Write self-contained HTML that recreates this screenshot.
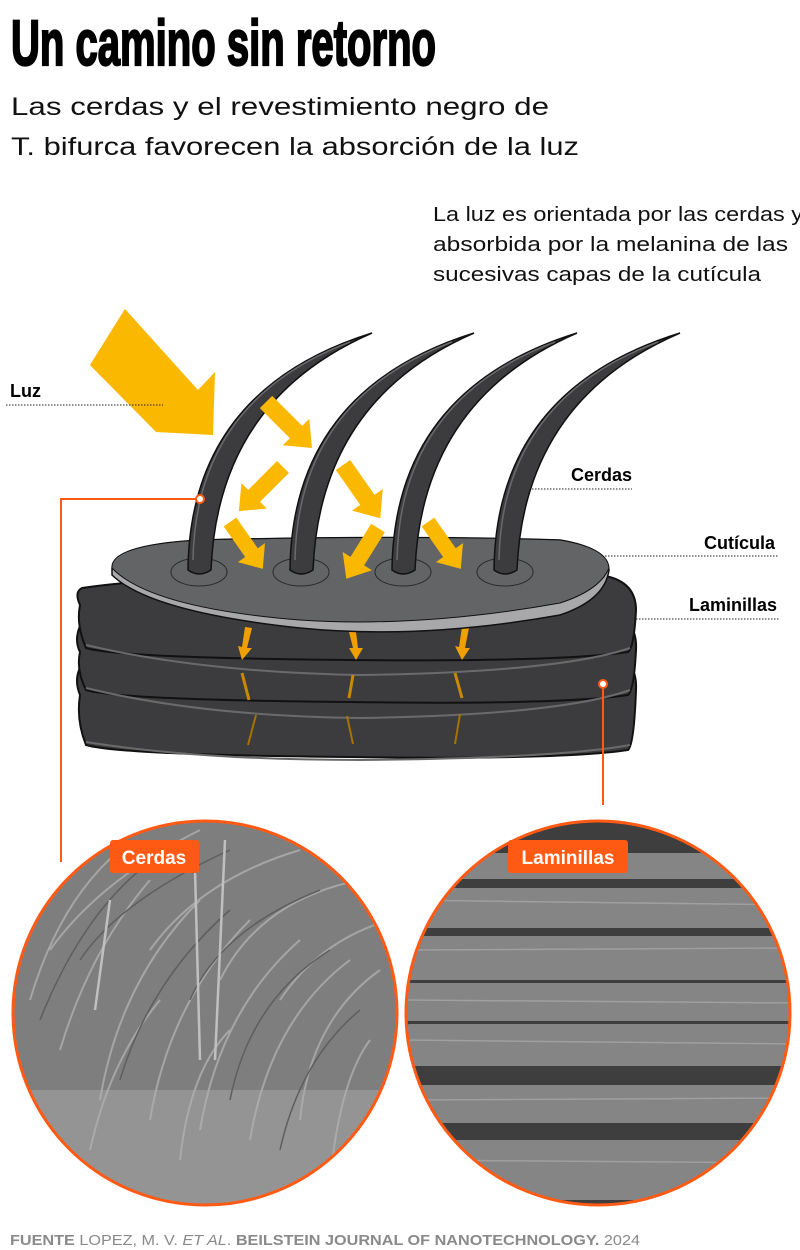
<!DOCTYPE html>
<html><head><meta charset="utf-8"><style>
html,body{margin:0;padding:0;background:#fff;width:800px;height:1250px;overflow:hidden}
svg text{font-family:"Liberation Sans",sans-serif}
</style></head><body>
<svg width="800" height="1250" viewBox="0 0 800 1250" xmlns="http://www.w3.org/2000/svg">
<defs>
<clipPath id="cl"><circle cx="205" cy="1013" r="192"/></clipPath>
<clipPath id="cr"><circle cx="598" cy="1013" r="192"/></clipPath>
<g id="arr"><polygon points="0,-7 34,-7 34,-15 52,0 34,15 34,7 0,7" fill="#fbb800"/></g>
</defs>
<text x="11" y="65" font-weight="bold" font-size="64" textLength="425" lengthAdjust="spacingAndGlyphs" stroke="#000" stroke-width="2.2" style="font-family:'Liberation Sans Narrow','Liberation Sans',sans-serif">Un camino sin retorno</text>
<text x="11" y="115" font-size="25" fill="#111" textLength="538" lengthAdjust="spacingAndGlyphs">Las cerdas y el revestimiento negro de</text>
<text x="11" y="155" font-size="25" fill="#111" textLength="568" lengthAdjust="spacingAndGlyphs">T. bifurca favorecen la absorción de la luz</text>
<text x="433" y="221" font-size="20" fill="#111" textLength="370" lengthAdjust="spacingAndGlyphs">La luz es orientada por las cerdas y</text>
<text x="433" y="251" font-size="20" fill="#111" textLength="355" lengthAdjust="spacingAndGlyphs">absorbida por la melanina de las</text>
<text x="433" y="281" font-size="20" fill="#111" textLength="328" lengthAdjust="spacingAndGlyphs">sucesivas capas de la cutícula</text>

<!-- labels -->
<text x="10" y="397" font-size="18" font-weight="bold">Luz</text>
<text x="632" y="481" font-size="18" font-weight="bold" text-anchor="end">Cerdas</text>
<line x1="520" y1="489" x2="632" y2="489" stroke="#222" stroke-dasharray="1.5,1.5"/>
<text x="775" y="549" font-size="18" font-weight="bold" text-anchor="end">Cutícula</text>
<line x1="572" y1="556" x2="778" y2="556" stroke="#222" stroke-dasharray="1.5,1.5"/>
<text x="777" y="611" font-size="18" font-weight="bold" text-anchor="end">Laminillas</text>
<line x1="615" y1="619" x2="780" y2="619" stroke="#222" stroke-dasharray="1.5,1.5"/>

<!-- lamellae -->
<g stroke="#111" stroke-width="2">
<path d="M80,695 Q74,680 80,668 Q200,640 600,650 Q638,655 636,690 Q634,745 628,750 Q560,760 350,757 Q120,755 86,745 Q76,720 80,695Z" fill="#3c3c3e"/>
<path d="M80,652 Q74,640 80,626 Q200,600 600,610 Q638,615 636,650 Q634,690 628,695 Q560,705 350,702 Q120,700 86,690 Q76,670 80,652Z" fill="#3c3c3e"/>
<path d="M80,605 Q74,592 82,588 Q200,570 600,575 Q636,580 636,610 Q634,648 628,652 Q560,662 350,660 Q120,658 86,648 Q76,625 80,605Z" fill="#3c3c3e"/>
</g>
<g stroke="#6a6a6a" stroke-width="2" fill="none">
<path d="M86,645 Q200,672 360,675 Q560,672 630,648"/>
<path d="M86,688 Q200,716 360,718 Q560,715 630,690"/>
<path d="M86,742 Q200,760 360,760 Q560,758 630,745"/>
</g>
<g fill="#f0a000">
<polygon points="245,627 252,628 247,648 252,648 242,660 238,646 242,647"/>
<polygon points="349,632 356,632 358,648 363,648 356,660 349,648 353,648"/>
<polygon points="462,627 469,628 465,648 470,648 462,660 455,646 459,647"/>
</g>
<g stroke="#c88a00" stroke-width="3" fill="none">
<line x1="242" y1="673" x2="249" y2="700"/><line x1="353" y1="675" x2="349" y2="698"/><line x1="455" y1="673" x2="462" y2="698"/>
</g>
<g stroke="#a67300" stroke-width="2" fill="none">
<line x1="256" y1="715" x2="248" y2="745"/><line x1="347" y1="716" x2="353" y2="744"/><line x1="460" y1="714" x2="455" y2="744"/>
</g>
<!-- cuticle -->
<path d="M112,570 Q110,545 200,540 Q400,535 560,540 Q608,548 609,570 Q605,600 560,615 Q420,640 300,628 Q150,612 112,575Z" fill="#a8a8ab" stroke="#111" stroke-width="1.5"/>
<path d="M112,568 Q110,545 200,540 Q400,535 560,540 Q608,548 609,568 Q600,590 560,603 Q420,628 300,620 Q150,608 112,568Z" fill="#636466" stroke="#111" stroke-width="1"/>
<g fill="none" stroke="#2a2a2a" stroke-width="1">
<ellipse cx="199" cy="572" rx="28" ry="14"/><ellipse cx="301" cy="572" rx="28" ry="14"/><ellipse cx="403" cy="572" rx="28" ry="14"/><ellipse cx="505" cy="572" rx="28" ry="14"/>
</g>
<!-- bristles -->
<g fill="#3c3c3e" stroke="#111" stroke-width="1.5">
<path d="M188,570 Q190,390 372,333 Q218,400 211,570 Q199,578 188,570Z"/>
<path d="M290,570 Q292,390 474,333 Q320,400 313,570 Q301,578 290,570Z"/>
<path d="M392,570 Q394,390 577,333 Q422,400 415,570 Q403,578 392,570Z"/>
<path d="M494,570 Q496,390 680,333 Q524,400 517,570 Q505,578 494,570Z"/>
</g>
<g stroke="#6a6a6c" stroke-width="1.5" fill="none">
<path d="M193,560 Q196,400 350,342"/><path d="M295,560 Q298,400 452,342"/><path d="M397,560 Q400,400 555,342"/><path d="M499,560 Q502,400 658,342"/>
</g>
<!-- big arrow -->
<polygon points="125,309 90,365 156,432 213,435 215,372 198,390" fill="#fbb800"/>
<polygon points="125,309 90,365 150,425 185,395" fill="#fbb800"/>
<line x1="6" y1="405" x2="163" y2="405" stroke="#222" stroke-dasharray="1.5,1.5"/>
<use href="#arr" transform="translate(266,402) rotate(45) scale(1.25)"/>
<use href="#arr" transform="translate(283,467) rotate(135) scale(1.2)"/>
<use href="#arr" transform="translate(343,465) rotate(55) scale(1.25)"/>
<use href="#arr" transform="translate(230,522) rotate(55) scale(1.1)"/>
<use href="#arr" transform="translate(378,528) rotate(122) scale(1.15)"/>
<use href="#arr" transform="translate(428,522) rotate(55) scale(1.1)"/>

<g stroke="#ff5a14" stroke-width="2" fill="none">
<polyline points="196,499 61,499 61,862"/>
<circle cx="200" cy="499" r="4" fill="#fff"/>
<line x1="603" y1="689" x2="603" y2="805"/>
<circle cx="603" cy="684" r="4" fill="#fff"/>
</g>

<!-- left circle -->
<g clip-path="url(#cl)">
<rect x="0" y="800" width="420" height="430" fill="#7e7e7e"/>
<rect x="0" y="1090" width="420" height="140" fill="#949494"/>
<g stroke="#b0b0b0" stroke-width="2" fill="none" opacity="0.8">
<path d="M30,1000 Q60,900 120,850"/><path d="M60,1050 Q90,950 150,880"/><path d="M100,1100 Q120,980 200,900"/>
<path d="M150,1120 Q170,1000 250,920"/><path d="M200,1130 Q220,1010 300,940"/><path d="M250,1140 Q270,1020 350,960"/>
<path d="M300,1120 Q310,1020 380,970"/><path d="M50,950 Q100,880 200,830"/><path d="M150,950 Q200,880 300,850"/>
<path d="M220,980 Q260,900 360,880"/><path d="M280,1000 Q320,940 390,920"/><path d="M90,1150 Q110,1060 160,1000"/>
<path d="M330,1180 Q340,1080 370,1040"/><path d="M20,900 Q60,840 140,820"/><path d="M180,1160 Q190,1070 230,1030"/>
</g>
<g stroke="#5e5e5e" stroke-width="1.5" fill="none">
<path d="M40,1020 Q80,920 140,870"/><path d="M120,1080 Q150,980 230,910"/><path d="M230,1100 Q250,1000 330,950"/>
<path d="M190,1000 Q220,930 320,890"/><path d="M80,960 Q120,900 230,850"/><path d="M280,1150 Q300,1060 360,1010"/>
</g>
<g stroke="#c0c0c0" stroke-width="2.5"><line x1="200" y1="1060" x2="195" y2="870"/><line x1="95" y1="1010" x2="110" y2="900"/><line x1="215" y1="1060" x2="225" y2="840"/></g>
</g>
<circle cx="205" cy="1013" r="192" fill="none" stroke="#ff5a14" stroke-width="3"/>

<!-- right circle -->
<g clip-path="url(#cr)">
<rect x="400" y="800" width="400" height="430" fill="#3e3e3e"/>
<g fill="#858585">
<rect x="400" y="853" width="400" height="26" rx="8"/>
<rect x="400" y="888" width="400" height="40" rx="10"/>
<rect x="400" y="936" width="400" height="44" rx="10"/>
<rect x="400" y="983" width="400" height="38" rx="10"/>
<rect x="400" y="1024" width="400" height="42" rx="10"/>
<rect x="400" y="1085" width="400" height="38" rx="10"/>
<rect x="400" y="1140" width="400" height="60" rx="10"/>
</g>
<g stroke="#aaa" stroke-width="1.5" opacity="0.7">
<line x1="400" y1="900" x2="800" y2="905"/><line x1="400" y1="950" x2="800" y2="948"/><line x1="400" y1="1000" x2="800" y2="1003"/><line x1="400" y1="1040" x2="800" y2="1044"/><line x1="400" y1="1100" x2="800" y2="1098"/><line x1="400" y1="1160" x2="800" y2="1163"/>
</g>
</g>
<circle cx="598" cy="1013" r="192" fill="none" stroke="#ff5a14" stroke-width="3"/>

<rect x="110" y="840" width="89" height="33" rx="3" fill="#ff5a14"/>
<text x="154" y="864" font-size="19" font-weight="bold" fill="#fff" text-anchor="middle">Cerdas</text>
<rect x="508" y="840" width="120" height="33" rx="3" fill="#ff5a14"/>
<text x="568" y="864" font-size="19" font-weight="bold" fill="#fff" text-anchor="middle">Laminillas</text>

<text x="10" y="1245" font-size="15" fill="#8a8a8a" textLength="630" lengthAdjust="spacingAndGlyphs"><tspan font-weight="bold">FUENTE</tspan>  LOPEZ, M. V. <tspan font-style="italic">ET AL</tspan>. <tspan font-weight="bold">BEILSTEIN JOURNAL OF NANOTECHNOLOGY.</tspan> 2024</text>
</svg>
</body></html>
